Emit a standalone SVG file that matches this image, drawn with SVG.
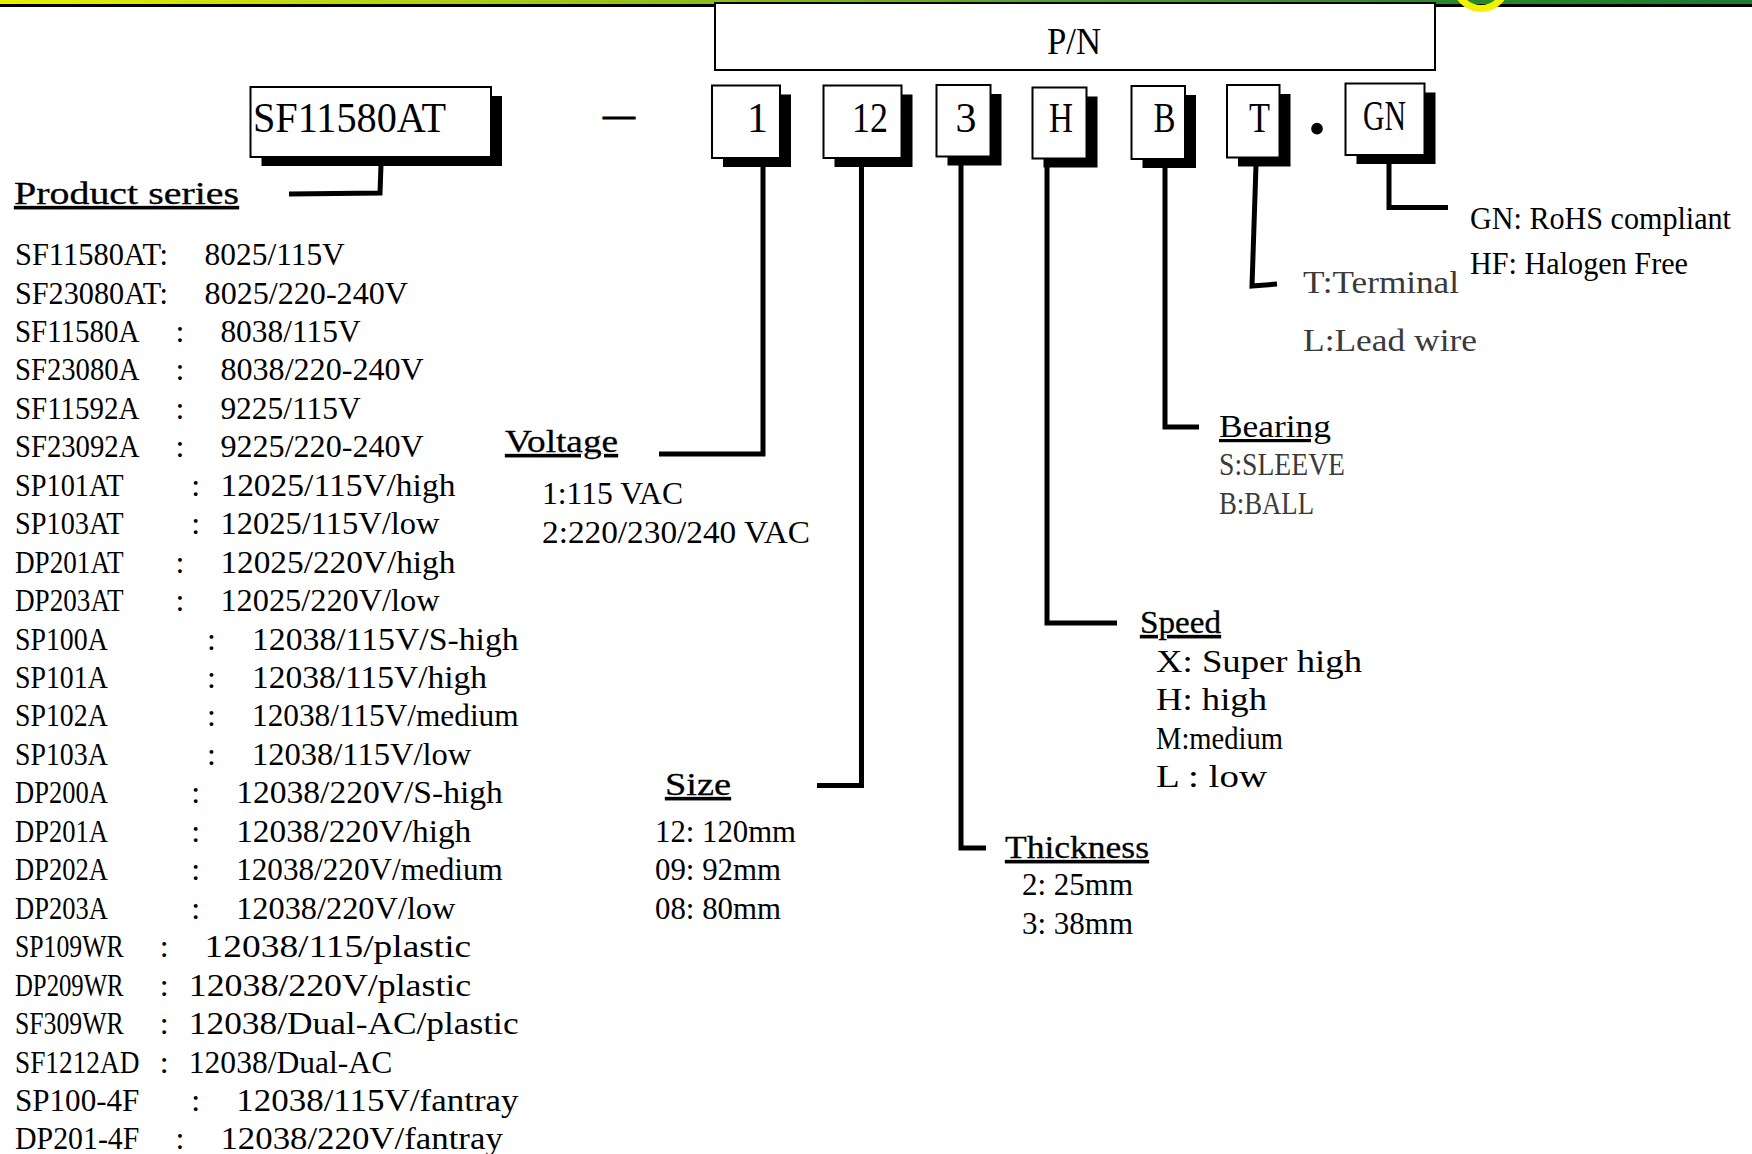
<svg xmlns="http://www.w3.org/2000/svg" width="1752" height="1154" viewBox="0 0 1752 1154">
<defs>
<linearGradient id="bar" x1="0" y1="0" x2="1" y2="0">
<stop offset="0" stop-color="#e8f000"/>
<stop offset="0.4" stop-color="#8cbd1d"/>
<stop offset="0.62" stop-color="#4f9e26"/>
<stop offset="0.8" stop-color="#2b8b2a"/>
<stop offset="1" stop-color="#1d7b2e"/>
</linearGradient>
<style>
.box{fill:#fff;stroke:#000;stroke-width:2}
.sh{fill:#000}
.conn{fill:none;stroke:#000;stroke-width:5;stroke-linejoin:miter;stroke-linecap:butt}
text{font-family:"Liberation Serif","Times New Roman",serif;fill:#000}
.t{font-size:32px}
.lbl{font-size:42px}
.pn{font-size:38px}
.hd{font-size:32px;stroke:#000;stroke-width:0.3px;text-decoration:underline}
.hl{font-size:32px;text-decoration:underline}
.grey{fill:#3a3a3a}
.gn{font-size:31px}
</style>
</defs>

<g id="top-bar">
<rect x="0" y="0" width="1752" height="4" fill="url(#bar)"/>
<rect x="0" y="4" width="1752" height="3" fill="#000"/>
<circle cx="1481" cy="-17" r="25.5" fill="none" stroke="#f2f200" stroke-width="7"/>
</g>

<g id="pn-header">
<rect class="box" x="715" y="3" width="720" height="67"/>
<text class="pn" x="1074" y="54" text-anchor="middle" textLength="54" lengthAdjust="spacingAndGlyphs">P/N</text>
</g>

<g id="box-series">
<rect class="sh" x="261.5" y="96" width="240.5" height="70"/>
<rect class="box" x="250.5" y="87" width="240.5" height="70"/>
<text class="lbl" x="253" y="131.7" textLength="193" lengthAdjust="spacingAndGlyphs">SF11580AT</text>
</g>

<g id="dash">
<text class="lbl" x="603" y="128" textLength="32" lengthAdjust="spacingAndGlyphs" stroke="#000" stroke-width="1">—</text>
</g>

<g id="box-voltage">
<rect class="sh" x="723" y="94.5" width="68" height="72.5"/>
<rect class="box" x="712" y="85.5" width="68" height="72.5"/>
<text class="lbl" x="757.5" y="131.7" text-anchor="middle">1</text>
</g>

<g id="box-size">
<rect class="sh" x="834.5" y="94.5" width="78" height="72.5"/>
<rect class="box" x="823.5" y="85.5" width="78" height="72.5"/>
<text class="lbl" x="852" y="131.7" textLength="36" lengthAdjust="spacingAndGlyphs">12</text>
</g>

<g id="box-thickness">
<rect class="sh" x="947.5" y="94" width="54" height="71.5"/>
<rect class="box" x="936.5" y="85" width="54" height="71.5"/>
<text class="lbl" x="966" y="131.7" text-anchor="middle">3</text>
</g>

<g id="box-speed">
<rect class="sh" x="1043.5" y="96.5" width="54" height="71"/>
<rect class="box" x="1032.5" y="87.5" width="54" height="71"/>
<text class="lbl" x="1049" y="131.7" textLength="24" lengthAdjust="spacingAndGlyphs">H</text>
</g>

<g id="box-bearing">
<rect class="sh" x="1142.5" y="95" width="53.5" height="73"/>
<rect class="box" x="1131.5" y="86" width="53.5" height="73"/>
<text class="lbl" x="1153.5" y="131.7" textLength="22" lengthAdjust="spacingAndGlyphs">B</text>
</g>

<g id="box-terminal">
<rect class="sh" x="1238" y="94" width="52.5" height="72.5"/>
<rect class="box" x="1227" y="85" width="52.5" height="72.5"/>
<text class="lbl" x="1249" y="131.7" textLength="21" lengthAdjust="spacingAndGlyphs">T</text>
</g>

<g id="dot">
<text x="1317" y="133.5" font-size="72" font-weight="bold" text-anchor="middle">.</text>
</g>

<g id="box-gn">
<rect class="sh" x="1356.5" y="92.5" width="79" height="71.5"/>
<rect class="box" x="1345.5" y="83.5" width="79" height="71.5"/>
<text class="lbl" x="1363" y="130" textLength="43" lengthAdjust="spacingAndGlyphs">GN</text>
</g>

<g id="connectors" class="conn">
<path d="M381,165 L380,193 L289,194"/>
<path d="M763,165 V454 H659"/>
<path d="M861.5,165 V785.5 H817"/>
<path d="M961,164 V848 H986"/>
<path d="M1047,166 V623 H1117"/>
<path d="M1165,166 V427 H1199"/>
<path d="M1256,165 L1252,286 L1277,284"/>
<path d="M1389,163 V207.5 H1448"/>
</g>

<g id="series-list" class="t">
<text class="hd" x="14" y="204" textLength="225" lengthAdjust="spacingAndGlyphs">Product series</text>

<text x="15" y="265" textLength="153" lengthAdjust="spacingAndGlyphs">SF11580AT:</text><text x="204.6" y="265" textLength="140.2" lengthAdjust="spacingAndGlyphs">8025/115V</text>
<text x="15" y="303.5" textLength="153" lengthAdjust="spacingAndGlyphs">SF23080AT:</text><text x="204.6" y="303.5" textLength="203.4" lengthAdjust="spacingAndGlyphs">8025/220-240V</text>
<text x="15" y="341.9" textLength="124.4" lengthAdjust="spacingAndGlyphs">SF11580A</text><text x="179.9" y="341.9" text-anchor="middle">:</text><text x="220.4" y="341.9" textLength="140.2" lengthAdjust="spacingAndGlyphs">8038/115V</text>
<text x="15" y="380.4" textLength="124.4" lengthAdjust="spacingAndGlyphs">SF23080A</text><text x="179.9" y="380.4" text-anchor="middle">:</text><text x="220.4" y="380.4" textLength="203.4" lengthAdjust="spacingAndGlyphs">8038/220-240V</text>
<text x="15" y="418.8" textLength="124.4" lengthAdjust="spacingAndGlyphs">SF11592A</text><text x="179.9" y="418.8" text-anchor="middle">:</text><text x="220.4" y="418.8" textLength="140.2" lengthAdjust="spacingAndGlyphs">9225/115V</text>
<text x="15" y="457.3" textLength="124.4" lengthAdjust="spacingAndGlyphs">SF23092A</text><text x="179.9" y="457.3" text-anchor="middle">:</text><text x="220.4" y="457.3" textLength="203.4" lengthAdjust="spacingAndGlyphs">9225/220-240V</text>
<text x="15" y="495.7" textLength="108.6" lengthAdjust="spacingAndGlyphs">SP101AT</text><text x="195.7" y="495.7" text-anchor="middle">:</text><text x="220.4" y="495.7" textLength="235" lengthAdjust="spacingAndGlyphs">12025/115V/high</text>
<text x="15" y="534.2" textLength="108.6" lengthAdjust="spacingAndGlyphs">SP103AT</text><text x="195.7" y="534.2" text-anchor="middle">:</text><text x="220.4" y="534.2" textLength="219.2" lengthAdjust="spacingAndGlyphs">12025/115V/low</text>
<text x="15" y="572.6" textLength="108.6" lengthAdjust="spacingAndGlyphs">DP201AT</text><text x="179.9" y="572.6" text-anchor="middle">:</text><text x="220.4" y="572.6" textLength="235" lengthAdjust="spacingAndGlyphs">12025/220V/high</text>
<text x="15" y="611.1" textLength="108.6" lengthAdjust="spacingAndGlyphs">DP203AT</text><text x="179.9" y="611.1" text-anchor="middle">:</text><text x="220.4" y="611.1" textLength="219.2" lengthAdjust="spacingAndGlyphs">12025/220V/low</text>
<text x="15" y="649.5" textLength="92.8" lengthAdjust="spacingAndGlyphs">SP100A</text><text x="211.5" y="649.5" text-anchor="middle">:</text><text x="252" y="649.5" textLength="266.6" lengthAdjust="spacingAndGlyphs">12038/115V/S-high</text>
<text x="15" y="688" textLength="92.8" lengthAdjust="spacingAndGlyphs">SP101A</text><text x="211.5" y="688" text-anchor="middle">:</text><text x="252" y="688" textLength="235" lengthAdjust="spacingAndGlyphs">12038/115V/high</text>
<text x="15" y="726.4" textLength="92.8" lengthAdjust="spacingAndGlyphs">SP102A</text><text x="211.5" y="726.4" text-anchor="middle">:</text><text x="252" y="726.4" textLength="266.6" lengthAdjust="spacingAndGlyphs">12038/115V/medium</text>
<text x="15" y="764.9" textLength="92.8" lengthAdjust="spacingAndGlyphs">SP103A</text><text x="211.5" y="764.9" text-anchor="middle">:</text><text x="252" y="764.9" textLength="219.2" lengthAdjust="spacingAndGlyphs">12038/115V/low</text>
<text x="15" y="803.3" textLength="92.8" lengthAdjust="spacingAndGlyphs">DP200A</text><text x="195.7" y="803.3" text-anchor="middle">:</text><text x="236.2" y="803.3" textLength="266.6" lengthAdjust="spacingAndGlyphs">12038/220V/S-high</text>
<text x="15" y="841.8" textLength="92.8" lengthAdjust="spacingAndGlyphs">DP201A</text><text x="195.7" y="841.8" text-anchor="middle">:</text><text x="236.2" y="841.8" textLength="235" lengthAdjust="spacingAndGlyphs">12038/220V/high</text>
<text x="15" y="880.2" textLength="92.8" lengthAdjust="spacingAndGlyphs">DP202A</text><text x="195.7" y="880.2" text-anchor="middle">:</text><text x="236.2" y="880.2" textLength="266.6" lengthAdjust="spacingAndGlyphs">12038/220V/medium</text>
<text x="15" y="918.7" textLength="92.8" lengthAdjust="spacingAndGlyphs">DP203A</text><text x="195.7" y="918.7" text-anchor="middle">:</text><text x="236.2" y="918.7" textLength="219.2" lengthAdjust="spacingAndGlyphs">12038/220V/low</text>
<text x="15" y="957.1" textLength="108.6" lengthAdjust="spacingAndGlyphs">SP109WR</text><text x="164.1" y="957.1" text-anchor="middle">:</text><text x="204.6" y="957.1" textLength="266.6" lengthAdjust="spacingAndGlyphs">12038/115/plastic</text>
<text x="15" y="995.6" textLength="108.6" lengthAdjust="spacingAndGlyphs">DP209WR</text><text x="164.1" y="995.6" text-anchor="middle">:</text><text x="188.8" y="995.6" textLength="282.4" lengthAdjust="spacingAndGlyphs">12038/220V/plastic</text>
<text x="15" y="1034" textLength="108.6" lengthAdjust="spacingAndGlyphs">SF309WR</text><text x="164.1" y="1034" text-anchor="middle">:</text><text x="188.8" y="1034" textLength="329.8" lengthAdjust="spacingAndGlyphs">12038/Dual-AC/plastic</text>
<text x="15" y="1072.5" textLength="124.4" lengthAdjust="spacingAndGlyphs">SF1212AD</text><text x="164.1" y="1072.5" text-anchor="middle">:</text><text x="188.8" y="1072.5" textLength="203.4" lengthAdjust="spacingAndGlyphs">12038/Dual-AC</text>
<text x="15" y="1110.9" textLength="124.4" lengthAdjust="spacingAndGlyphs">SP100-4F</text><text x="195.7" y="1110.9" text-anchor="middle">:</text><text x="236.2" y="1110.9" textLength="282.4" lengthAdjust="spacingAndGlyphs">12038/115V/fantray</text>
<text x="15" y="1149.4" textLength="124.4" lengthAdjust="spacingAndGlyphs">DP201-4F</text><text x="179.9" y="1149.4" text-anchor="middle">:</text><text x="220.4" y="1149.4" textLength="282.4" lengthAdjust="spacingAndGlyphs">12038/220V/fantray</text>
</g>

<g id="voltage-legend" class="t">
<text class="hd" x="505" y="452" textLength="113" lengthAdjust="spacingAndGlyphs">Voltage</text>
<text x="542" y="504" textLength="141" lengthAdjust="spacingAndGlyphs">1:115 VAC</text>
<text x="542" y="543" textLength="268" lengthAdjust="spacingAndGlyphs">2:220/230/240 VAC</text>
</g>

<g id="size-legend" class="t">
<text class="hd" x="665" y="795" textLength="66" lengthAdjust="spacingAndGlyphs">Size</text>
<text x="655" y="842" textLength="141" lengthAdjust="spacingAndGlyphs">12: 120mm</text>
<text x="655" y="880" textLength="126" lengthAdjust="spacingAndGlyphs">09: 92mm</text>
<text x="655" y="919" textLength="126" lengthAdjust="spacingAndGlyphs">08: 80mm</text>
</g>

<g id="thickness-legend" class="t">
<text class="hd" x="1005" y="858" textLength="144" lengthAdjust="spacingAndGlyphs">Thickness</text>
<text x="1022" y="895" textLength="111" lengthAdjust="spacingAndGlyphs">2: 25mm</text>
<text x="1022" y="934" textLength="111" lengthAdjust="spacingAndGlyphs">3: 38mm</text>
</g>

<g id="speed-legend" class="t">
<text class="hd" x="1140" y="633" textLength="81" lengthAdjust="spacingAndGlyphs">Speed</text>
<text x="1156" y="672" textLength="206" lengthAdjust="spacingAndGlyphs">X: Super high</text>
<text x="1156" y="710" textLength="111" lengthAdjust="spacingAndGlyphs">H: high</text>
<text x="1156" y="748.5" textLength="127" lengthAdjust="spacingAndGlyphs">M:medium</text>
<text x="1156" y="787" textLength="111" lengthAdjust="spacingAndGlyphs">L : low</text>
</g>

<g id="bearing-legend" class="t">
<text class="hl" x="1219" y="437" textLength="112" lengthAdjust="spacingAndGlyphs">Bearing</text>
<text class="grey" x="1219" y="475" textLength="126" lengthAdjust="spacingAndGlyphs">S:SLEEVE</text>
<text class="grey" x="1219" y="514" textLength="95" lengthAdjust="spacingAndGlyphs">B:BALL</text>
</g>

<g id="terminal-legend" class="t">
<text class="grey" x="1303" y="293" textLength="156" lengthAdjust="spacingAndGlyphs">T:Terminal</text>
<text class="grey" x="1303" y="350.5" textLength="174" lengthAdjust="spacingAndGlyphs">L:Lead wire</text>
</g>

<g id="gn-legend" class="gn">
<text x="1470" y="228.5" textLength="261" lengthAdjust="spacingAndGlyphs">GN: RoHS compliant</text>
<text x="1470" y="273.5" textLength="218" lengthAdjust="spacingAndGlyphs">HF: Halogen Free</text>
</g>
</svg>
